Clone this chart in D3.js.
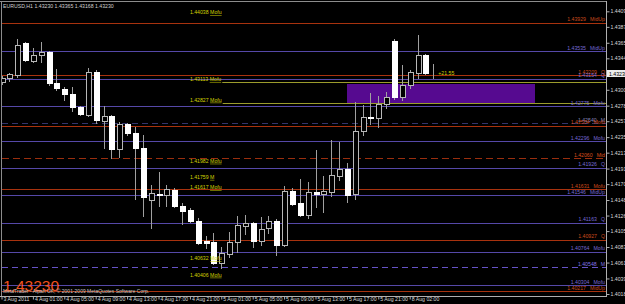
<!DOCTYPE html>
<html>
<head>
  <script src="https://d3js.org/d3.v7.min.js"></script>
  <style>
    body { margin: 0; background: #000; }
    svg { display: block; font-family: "Liberation Sans", Arial, sans-serif; }
  </style>
</head>
<body>
<script>
// EURUSD H1 candles, 3 Aug 21:00 .. 8 Aug 05:00 (bar index 0..55)
const symbol = "EURUSD,H1";
const open = [1.43113, 1.43168, 1.43209, 1.43652, 1.43403, 1.43486, 1.43528, 1.43099, 1.43016, 1.42947,
  1.42767, 1.42656, 1.43251, 1.42573, 1.42642, 1.42186, 1.42532, 1.42407, 1.42200, 1.41480,
  1.41570, 1.41550, 1.41619, 1.41397, 1.41342, 1.41190, 1.40913, 1.40899, 1.40609, 1.40733,
  1.40899, 1.41121, 1.41162, 1.40913, 1.41093, 1.41190, 1.40858, 1.41605, 1.41439, 1.41273,
  1.41591, 1.41563, 1.41591, 1.41812, 1.41909, 1.41563, 1.42435, 1.42635, 1.42615, 1.42808,
  1.43680, 1.42905, 1.43071, 1.43237, 1.43486, 1.43230];
const high = [1.43196, 1.43237, 1.43707, 1.43666, 1.43583, 1.43666, 1.43541, 1.43292, 1.43043, 1.43043,
  1.42781, 1.43306, 1.43279, 1.42781, 1.42656, 1.42559, 1.42545, 1.42490, 1.42379, 1.41688,
  1.41868, 1.41688, 1.41646, 1.41439, 1.41370, 1.41231, 1.40982, 1.41024, 1.40830, 1.41038,
  1.41259, 1.41273, 1.41176, 1.41245, 1.41259, 1.41218, 1.41674, 1.41646, 1.41771, 1.41729,
  1.42172, 1.41812, 1.42310, 1.42283, 1.41992, 1.42836, 1.42794, 1.42960, 1.42919, 1.42974,
  1.43707, 1.43348, 1.43279, 1.43763, 1.43500, 1.43365];
const low = [1.43085, 1.43126, 1.43182, 1.43403, 1.43389, 1.43389, 1.43071, 1.43002, 1.42864, 1.42711,
  1.42656, 1.42642, 1.42545, 1.42200, 1.42061, 1.42075, 1.42379, 1.41494, 1.41259, 1.41093,
  1.41397, 1.41397, 1.41384, 1.41148, 1.41176, 1.40872, 1.40816, 1.40595, 1.40540, 1.40692,
  1.40761, 1.41010, 1.40830, 1.40858, 1.41024, 1.40720, 1.40844, 1.41411, 1.41259, 1.41231,
  1.41384, 1.41314, 1.41536, 1.41757, 1.41453, 1.41494, 1.42379, 1.42532, 1.42490, 1.42753,
  1.42877, 1.42864, 1.43030, 1.43168, 1.43223, 1.43168];
const close = [1.43168, 1.43223, 1.43624, 1.43417, 1.43486, 1.43528, 1.43099, 1.43030, 1.42947, 1.42767,
  1.42670, 1.43251, 1.42587, 1.42642, 1.42186, 1.42532, 1.42407, 1.42200, 1.41522, 1.41577,
  1.41556, 1.41633, 1.41397, 1.41328, 1.41190, 1.40886, 1.40886, 1.40609, 1.40747, 1.40899,
  1.41135, 1.41162, 1.40913, 1.41079, 1.41190, 1.40858, 1.41605, 1.41425, 1.41273, 1.41591,
  1.41563, 1.41605, 1.41826, 1.41909, 1.41550, 1.42435, 1.42628, 1.42621, 1.42808, 1.42905,
  1.42905, 1.43071, 1.43251, 1.43486, 1.43237, 1.43230];

const timeTickBars = [0, 4, 8, 12, 16, 20, 24, 28, 32, 36, 40, 44, 48, 52];
const timeTickLabels = ["3 Aug 2011", "4 Aug 01:00", "4 Aug 05:00", "4 Aug 09:00", "4 Aug 13:00",
  "4 Aug 17:00", "4 Aug 21:00", "5 Aug 01:00", "5 Aug 05:00", "5 Aug 09:00", "5 Aug 13:00",
  "5 Aug 17:00", "5 Aug 21:00", "8 Aug 02:00"];
const priceTicks = [1.40180, 1.40395, 1.40615, 1.40830, 1.41050, 1.41265, 1.41480, 1.41700, 1.41915,
  1.42135, 1.42350, 1.42570, 1.42785, 1.43005, 1.43440, 1.43655, 1.43875, 1.44090];

// pivot levels (set: 1 red, 2 purple, 3 red dashed, 4 dark dashed, 5 purple dashed)
const levelPrices = [1.43929, 1.43535, 1.43209, 1.43154, 1.42775, 1.42540, 1.42504, 1.42296, 1.42060,
  1.41926, 1.41631, 1.41546, 1.41163, 1.40927, 1.40764, 1.40548, 1.40304, 1.40217];
const levelTags = ["MidUp", "MidUp", "Q", "Q", "Mofu", "M", "Mofu", "Mofu", "Mid",
  "Q", "Mofu", "MidUp", "Q", "Q", "Mofu", "M", "Mofu", "MidUp"];
const levelSets = [1, 2, 1, 2, 2, 4, 1, 2, 3, 2, 1, 2, 2, 1, 2, 5, 2, 1];

// yellow text marks
const markPrices = [1.44038, 1.43113, 1.42827, 1.41982, 1.41759, 1.41617, 1.40632, 1.40406];
const markTags = ["Mofu", "Mofu", "Mofu", "Mofu", "M", "Mofu", "Mofu", "Mofu"];
const markHasLine = [false, true, true, false, false, false, false, false];
const markBar = 24;

// zone rectangle
const zoneBars = [44, 68];
const zonePrices = [1.43085, 1.42822];
const profitText = "+21.55";

const W = 625, H = 304, right = 606, bottom = 296;

const svg = d3.select("body").append("svg").attr("width", W).attr("height", H);
svg.append("rect").attr("width", W).attr("height", H).attr("fill", "#000");
svg.append("clipPath").attr("id", "clip")
  .append("rect").attr("x", 2).attr("y", 2).attr("width", right - 2).attr("height", bottom - 2);

const x = d3.scaleLinear().domain([0, 55]).range([1.5, 433.25]);
const y = d3.scaleLinear().domain([1.40180, 1.43230]).range([294, 73.5]);
const py = p => Math.round(y(p)) + 0.5;

const plot = svg.append("g").attr("clip-path", "url(#clip)");

// level lines
const setColor = {1: "#a8320e", 2: "#5548a8", 3: "#9a2e0e", 4: "#34346c", 5: "#6652c8"};
const setLabel = {1: "#cc4a1c", 2: "#7668d4", 3: "#d84e1c", 4: "#8886bc", 5: "#8070e4"};
const setDash = {1: null, 2: null, 3: "7,4", 4: "6,4", 5: "6,4"};
const levels = levelPrices.map((p, i) => ({p, tag: levelTags[i], set: levelSets[i]}));

plot.selectAll(".lvl").data(levels).join("line")
  .attr("x1", 2).attr("x2", right)
  .attr("y1", d => py(d.p)).attr("y2", d => py(d.p))
  .attr("stroke", d => setColor[d.set])
  .attr("stroke-dasharray", d => setDash[d.set]);

// yellow marks
const marks = markPrices.map((p, i) => ({p, tag: markTags[i], line: markHasLine[i]}));
const markText = svg.append("g").selectAll("text").data(marks).join("text")
  .attr("x", x(markBar)).attr("y", d => y(d.p) - 1)
  .attr("font-size", 5.2).attr("fill", "#d2d200");
markText.append("tspan").text(d => d.p.toFixed(5) + " ");
markText.append("tspan").style("text-decoration", "underline").text(d => d.tag);
markText.each(function(d) { d.end = x(markBar) + this.getComputedTextLength() + 1; });

plot.selectAll(".mline").data(marks.filter(d => d.line)).join("line")
  .attr("x1", d => d.end).attr("x2", right)
  .attr("y1", d => py(d.p)).attr("y2", d => py(d.p))
  .attr("stroke", "#9c9c2c");

// zone
plot.append("rect")
  .attr("x", Math.round(x(zoneBars[0])))
  .attr("y", Math.round(y(zonePrices[0])))
  .attr("width", Math.round(x(zoneBars[1])) - Math.round(x(zoneBars[0])))
  .attr("height", Math.round(y(zonePrices[1])) - Math.round(y(zonePrices[0])))
  .attr("fill", "#560a90");

// candles
const bars = close.map((c, i) => ({i, o: open[i], h: high[i], l: low[i], c}));
const cx = d => Math.round(x(d.i));

plot.selectAll(".wick").data(bars).join("line")
  .attr("x1", d => cx(d) + 0.5).attr("x2", d => cx(d) + 0.5)
  .attr("y1", d => Math.round(y(d.h))).attr("y2", d => Math.round(y(d.l)) + 1)
  .attr("stroke", "#a0a0a0");

plot.selectAll(".body").data(bars).join("rect")
  .attr("x", d => cx(d) - 1.5).attr("width", 5)
  .attr("y", d => py(Math.max(d.o, d.c)))
  .attr("height", d => Math.max(0, py(Math.min(d.o, d.c)) - py(Math.max(d.o, d.c))))
  .attr("fill", d => d.c < d.o ? "#ffffff" : "#000")
  .attr("stroke", d => d.c < d.o ? "#ffffff" : "#b8b8b8");

// profit tag next to last bar
const last = bars[bars.length - 1];
svg.append("text").attr("x", x(last.i) + 5).attr("y", y(last.c) + 1)
  .attr("font-size", 5.2).attr("fill", "#d2d200").text(profitText);

// level labels on the right
const lbl = svg.append("g").selectAll("g").data(levels).join("g")
  .attr("fill", d => setLabel[d.set]).attr("font-size", 5.2);
lbl.append("text").attr("class", "tag")
  .attr("x", right - 1).attr("y", d => y(d.p) - 1.5)
  .attr("text-anchor", "end").text(d => d.tag);
lbl.each(function(d) {
  const g = d3.select(this);
  const w = g.select(".tag").node().getComputedTextLength();
  g.append("text").attr("x", right - 1 - w - 4).attr("y", y(d.p) - 1.5)
    .attr("text-anchor", "end").text(d.p.toFixed(5));
});

// frame
svg.append("line").attr("x1", 0).attr("x2", right).attr("y1", 1.5).attr("y2", 1.5).attr("stroke", "#8c8c8c");
svg.append("line").attr("x1", 1.5).attr("x2", 1.5).attr("y1", 1).attr("y2", bottom).attr("stroke", "#8c8c8c");
svg.append("line").attr("x1", right + 0.5).attr("x2", right + 0.5).attr("y1", 1).attr("y2", bottom + 1).attr("stroke", "#b0b0b0");
svg.append("line").attr("x1", 0).attr("x2", right + 1).attr("y1", bottom + 0.5).attr("y2", bottom + 0.5).attr("stroke", "#b0b0b0");

// price axis
const yAxis = svg.append("g").attr("transform", `translate(${right + 0.5},0)`)
  .call(d3.axisRight(y).tickValues(priceTicks).tickSize(3).tickPadding(1).tickFormat(d3.format(".5f")));
yAxis.select(".domain").remove();
yAxis.selectAll("line").attr("stroke", "#b0b0b0");
yAxis.selectAll("text").attr("fill", "#d8d8d8").attr("font-size", 5.2).attr("font-family", null);

// current price marker
svg.append("rect").attr("x", right + 1).attr("y", y(last.c) - 3.5).attr("width", W - right).attr("height", 7)
  .attr("fill", "#ececec");
svg.append("text").attr("x", right + 3).attr("y", y(last.c) + 2).attr("font-size", 5.2).attr("fill", "#000")
  .text(last.c.toFixed(5));

// time axis
const xAxis = svg.append("g").attr("transform", `translate(0,${bottom + 0.5})`)
  .call(d3.axisBottom(x).tickValues(timeTickBars).tickSize(3).tickFormat((d, i) => timeTickLabels[i]));
xAxis.select(".domain").remove();
xAxis.selectAll("line").attr("stroke", "#b0b0b0");
xAxis.selectAll("text").attr("fill", "#d8d8d8").attr("font-size", 5.2).attr("font-family", null)
  .attr("text-anchor", "start").attr("x", 1.5).attr("y", 1);

// title and watermark
svg.append("text").attr("x", 3).attr("y", 7.5).attr("font-size", 5.2).attr("fill", "#d0d0d0")
  .text(`${symbol}  ${last.o.toFixed(5)} ${last.h.toFixed(5)} ${last.l.toFixed(5)} ${last.c.toFixed(5)}`);
svg.append("text").attr("x", 3).attr("y", 291).attr("font-size", 15.5).attr("fill", "#f2521e")
  .text(last.c.toFixed(5));
svg.append("text").attr("x", 3).attr("y", 292.5).attr("font-size", 5).attr("fill", "#c8c8c8")
  .text("MetaTrader - Alpari UK, \u00a9 2001-2009 MetaQuotes Software Corp.");
</script>
</body>
</html>
